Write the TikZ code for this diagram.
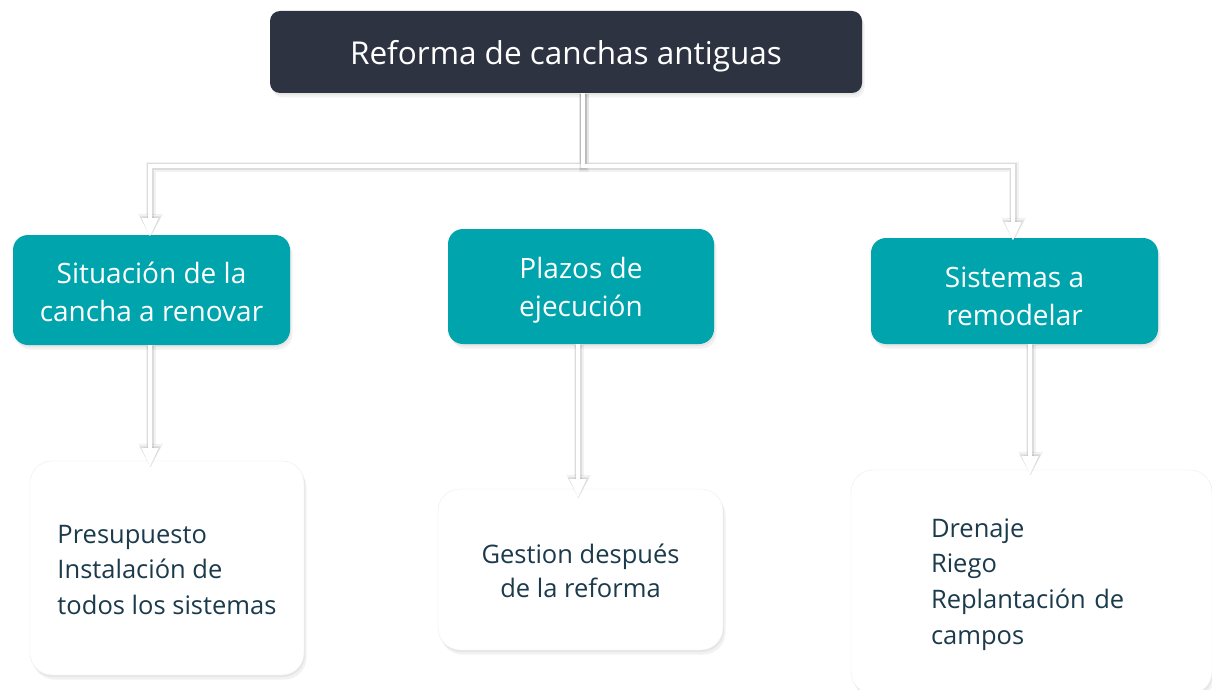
\documentclass[tikz,border=0pt]{standalone}
\usepackage{fontspec}
\setmainfont{Open Sans}
\usetikzlibrary{arrows.meta,shadows,calc}
\definecolor{darkbox}{HTML}{2D3340}
\definecolor{tealbox}{HTML}{00A4AC}
\definecolor{bodytext}{HTML}{1B3A4B}
\tikzset{
  softshadow/.style={
    drop shadow={opacity=.10, shadow xshift=1pt, shadow yshift=-2pt},
    drop shadow={opacity=.10, shadow xshift=2.5pt, shadow yshift=-4.5pt}},
  topbox/.style={rectangle, rounded corners=10pt, fill=darkbox, text=white, softshadow,
    inner sep=0pt, font=\fontsize{31.5}{38}\selectfont, text height=26pt, text depth=0pt},
  tealnode/.style={rectangle, rounded corners=15pt, fill=tealbox, text=white, softshadow,
    inner sep=0pt, align=center, font=\fontsize{28}{38}\selectfont, text depth=0pt},
  whitenode/.style={rectangle, rounded corners=22pt, fill=white, draw=black!7, text=bodytext,
    softshadow, inner sep=0pt, text depth=0pt},
  conn/.style={line width=4pt, draw=white, line join=miter,
    -{Triangle[width=16pt,length=19pt]},
    preaction={draw=black, opacity=.05, line width=10pt,
      -{Triangle[width=23pt,length=24pt]},
      transform canvas={xshift=0.6pt,yshift=-1pt}},
    preaction={draw=black, opacity=.09, line width=6.5pt,
      -{Triangle[width=19.5pt,length=21pt]},
      transform canvas={xshift=0.3pt,yshift=-0.6pt}}}
}
\begin{document}
\begin{tikzpicture}[x=1pt,y=-1pt]
\path[use as bounding box] (0,0) rectangle (1212,690);
\clip (0,0) rectangle (1212,690);
\fill[white] (0,0) rectangle (1212,690);

\node[topbox, minimum width=592pt, minimum height=82pt] (top) at (566,52) {Reforma de canchas antiguas};

\node[tealnode, text height=63.4pt, minimum width=277pt, minimum height=110pt] (s1) at (151.5,290) {Situación de la\\cancha a renovar};
\node[tealnode, text height=60.4pt, minimum width=266pt, minimum height=115pt] (s2) at (581,286.5) {Plazos de\\ejecución};
\node[tealnode, text height=68pt, minimum width=287pt, minimum height=106pt] (s3) at (1014.5,291) {Sistemas a\\remodelar};

\node[whitenode, align=left, font=\fontsize{25.5}{35.3}\selectfont, text height=92pt,
  minimum width=274pt, minimum height=214pt] (w1) at (167,568) {Presupuesto\\Instalación de\\todos los sistemas};
\node[whitenode, align=center, font=\fontsize{25.5}{34}\selectfont, text height=55.6pt,
  minimum width=285pt, minimum height=161pt] (w2) at (580.5,569.5) {Gestion después\\de la reforma};
\node[whitenode, align=left, text width=201pt, font=\fontsize{25.5}{35.6}\selectfont,
  text height=0pt, text depth=89.4pt,
  minimum width=361pt, minimum height=224pt] (w3) at (1031.5,582) {Drenaje\\Riego\\Replantación de\\campos};

\coordinate (j) at (583,166);

\draw[conn] (top.south -| j) -- (j) -| ([yshift=-2pt]s1.north -| 150,0);
\draw[conn] (top.south -| j) -- (j) -| ([yshift=-3pt]s3.north -| 1013,0);

\draw[conn] (s1.south -| 150,0) -- ([yshift=-6pt]w1.north -| 150,0);
\draw[conn] (s2.south -| 578,0) -- ([yshift=-9pt]w2.north -| 578,0);
\draw[conn] (s3.south -| 1030,0) -- ([yshift=-5pt]w3.north -| 1030,0);
\end{tikzpicture}
\end{document}
